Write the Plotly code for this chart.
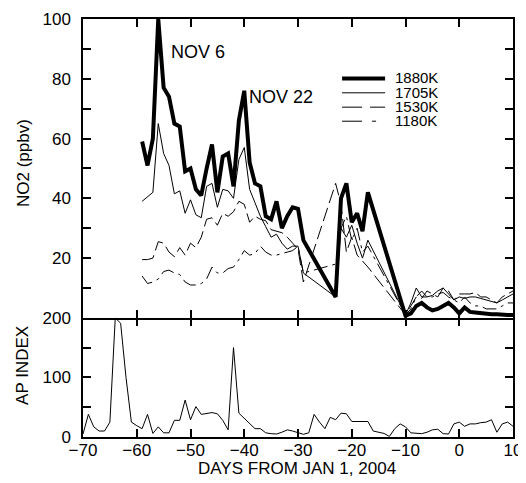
import plotly.graph_objects as go
from plotly.subplots import make_subplots

# ---------------- data ----------------
no2_days = list(range(-59, 11))
N = None
no2_1880 = [59, 51, 60, 100, 77, 74, 65, 64, 49, 50,
            43, 41, 50, 58, 42, 54, 55, 44, 66, 76,
            52, 45, 44, 34, 33, 39, 30, 34, 37, 36.5,
            26, N, N, N, N, N, 7, 40, 45, 32,
            35, 29, 42, N, N, N, N, N, N, 0.7,
            1.5, 4, 5, 3.5, 2.5, 3, 4, 5, 3.5, 1.5,
            3.5, 2, 1.8, 1.5, 1.5, 1.2, 1.2, 1, 1, 1]
no2_1705 = [39, 40.5, 42, 65, 55, 51, 41.5, 42.5, 35, 39.5,
            34.5, 33.5, 44, 45, 37, 43, 42.5, 40, 53, 57,
            43, 38.5, 34, 30.5, 27, 28, 25, 23, 24, 24,
            15, N, N, N, N, N, 7, 30, 27, 31,
            25, 20, 26, N, N, N, N, N, N, 1,
            5, 10, 7, 7, 7.5, 9, 10, 8, 6, 7,
            6.5, 7, 7, 6.5, 6, 5.5, 5, 6, 7, 8]
no2_1530 = [19.5, 19.5, 20, 25.5, 25, 22, 20.5, 23.5, 21, 25,
            23.5, 27, 33, 33.5, 31, 35, 34, 35.5, 39, 38,
            32, 34, 33, 32.5, 29.5, 29, 28.5, 27, 25, 23,
            12, N, N, N, N, N, 45, 38, 22, 27,
            21, 19, 17, N, N, N, N, N, N, 1,
            4, 7, 6.5, 9, 8, 7, 10, 9, 6, 8,
            8, 8, 8.5, 7, 7, 6, 5, 7, 8, 9]
no2_1180 = [14, 11.5, 12, 13, 15.5, 16, 15, 14.5, 12, 11,
            11, 11.5, 13, 17, 15, 15, 16.5, 17, 19.5, 22.5,
            21, 21.5, 24, 22, 21, 21, 21.5, 22, 22.5, 24,
            15, N, N, N, N, N, 18, 30, 34, 26,
            30, 22, 24, N, N, N, N, N, N, 1,
            3, 7, 9, 7, 7, 8, 8.5, 7, 6, 5,
            7, 5, 4, 4, 3, 3, 3, 4, 5, 5]

ap_days = list(range(-70, 11))
ap_index = [5, 38, 17, 10, 10, 25, 200, 191, 100, 25,
            19, 14, 38, 6, 17, 7, 7, 28, 28, 62,
            29, 51, 38, 39, 41, 39, 28, 12, 150, 40,
            31, 22, 14, 14, 7, 5.6, 5, 8, 12, 10,
            7, 4.5, 7, 38, 25, 14, 33, 29, 40, 39,
            26, 26, 26, 26, 10, 8, 6, 1, 14, 22,
            17, 7, 6, 5.6, 8, 12, 13, 5.6, 5, 22,
            25, 18, 22, 22, 24, 25, 29, 8, 22, 25, 18]

series_names = ["1880K", "1705K", "1530K", "1180K"]
x_ticks = [-70, -60, -50, -40, -30, -20, -10, 0, 10]
no2_ticks = [20, 40, 60, 80, 100]
ap_ticks = [0, 100, 200]

# ---------------- figure ----------------
FONT = "Liberation Sans, Arial, Helvetica, sans-serif"
fig = make_subplots(rows=2, cols=1, shared_xaxes=True, vertical_spacing=0,
                    row_heights=[0.715, 0.285])

styles = [dict(width=4, dash="solid"),
          dict(width=1, dash="solid"),
          dict(width=1, dash="14px,5px"),
          dict(width=1, dash="14px,5px,3px,5px")]
for name, vals, st in zip(series_names, [no2_1880, no2_1705, no2_1530, no2_1180], styles):
    fig.add_trace(go.Scatter(x=no2_days, y=vals, mode="lines", name=name,
                             connectgaps=True,
                             line=dict(color="black", width=st["width"], dash=st["dash"])),
                  row=1, col=1)

fig.add_trace(go.Scatter(x=ap_days, y=ap_index, mode="lines", name="AP",
                         line=dict(color="black", width=1)), row=2, col=1)
# empty trace so the tick-only axis at the top of the lower panel is drawn
fig.add_trace(go.Scatter(x=[], y=[], xaxis="x3", yaxis="y2", showlegend=False))

tick_font = dict(family=FONT, size=17, color="black")
axis_common = dict(showline=True, linecolor="black", linewidth=1.5, automargin=False,
                   ticks="inside", ticklen=8, tickwidth=1.5, tickcolor="black",
                   showgrid=False, zeroline=False, tickfont=tick_font)

fig.update_xaxes(range=[-70, 10], tickvals=x_ticks, **axis_common)
fig.update_xaxes(showticklabels=False, mirror="ticks", row=1, col=1)
fig.update_xaxes(mirror=False, ticklabelstandoff=-3, row=2, col=1)
fig.update_yaxes(range=[0, 100], tickvals=no2_ticks, mirror="ticks", ticklabelstandoff=7,
                 minor=dict(ticks="inside", dtick=10, tick0=0, ticklen=8,
                            tickwidth=1.5, tickcolor="black"),
                 row=1, col=1, **axis_common)
fig.update_yaxes(range=[0, 200], tickvals=ap_ticks, mirror="ticks", ticklabelstandoff=7,
                 minor=dict(ticks="inside", dtick=50, tick0=0, ticklen=8,
                            tickwidth=1.5, tickcolor="black"),
                 row=2, col=1, **axis_common)
fig.update_layout(xaxis3=dict(overlaying="x2", anchor="y2", side="top", automargin=False,
                              range=[-70, 10], tickvals=x_ticks, ticks="inside",
                              ticklen=8, tickwidth=1.5, tickcolor="black",
                              showline=False, showticklabels=False,
                              showgrid=False, zeroline=False))

# legend drawn in the top panel (text boxes kept to the row pitch)
leg_y = [80.1, 75.3, 70.5, 65.8]
leg_dash = ["solid", "solid", "20px,8px", "20px,10px,4px,20px"]
for name, yy, st, dsh in zip(series_names, leg_y, styles, leg_dash):
    fig.add_shape(type="line", xref="x", yref="y", x0=-21.8, x1=-13.8, y0=yy, y1=yy,
                  line=dict(color="black", width=st["width"], dash=dsh))
    fig.add_annotation(xref="x", yref="y", x=-12.2, y=yy, text=name, showarrow=False,
                       xanchor="left", yanchor="middle", height=13.5, borderpad=0,
                       font=dict(family=FONT, size=15, color="black"))

# event labels
fig.add_annotation(xref="x", yref="y", x=-54.0, y=89.1, text="NOV 6", showarrow=False,
                   xanchor="left", yanchor="middle", font=dict(family=FONT, size=18, color="black"))
fig.add_annotation(xref="x", yref="y", x=-39.4, y=74, text="NOV 22", showarrow=False,
                   xanchor="left", yanchor="middle", font=dict(family=FONT, size=18, color="black"))

# axis titles
title_font = dict(family=FONT, size=17, color="black")
fig.add_annotation(xref="paper", yref="paper", x=-0.1395, y=0.6555, text="NO2 (ppbv)",
                   textangle=-90, showarrow=False, xanchor="center", yanchor="middle",
                   font=title_font)
fig.add_annotation(xref="paper", yref="paper", x=-0.1395, y=0.170, text="AP INDEX",
                   textangle=-90, showarrow=False, xanchor="center", yanchor="middle",
                   font=title_font)
fig.add_annotation(xref="paper", yref="paper", x=0.4988, y=-0.0765,
                   text="DAYS FROM JAN 1, 2004", showarrow=False,
                   xanchor="center", yanchor="middle", font=title_font)

# the page body adds an 8px offset, so the figure is 8px smaller than the window
fig.update_layout(width=518, height=475, showlegend=False,
                  margin=dict(l=75, r=13, t=11, b=46, autoexpand=False),
                  plot_bgcolor="white", paper_bgcolor="white",
                  font=dict(family=FONT, size=17, color="black"))

fig.write_html("out.html")
